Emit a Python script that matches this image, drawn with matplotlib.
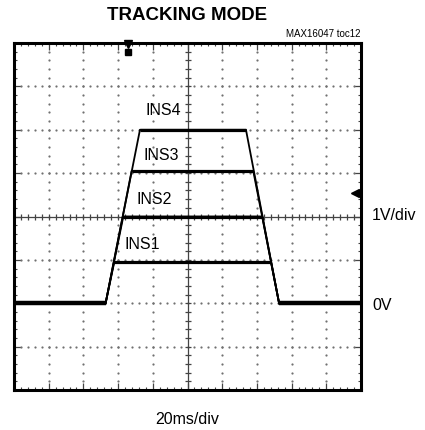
import numpy as np
import matplotlib
matplotlib.use("Agg")
import matplotlib.pyplot as plt
from matplotlib.ticker import MultipleLocator

# scope settings: 20ms/div, 1V/div, 0V two divisions above the bottom
t_div = 20.0
v_div = 1.0

# tracking ramp (ms) and channel levels (V)
canais = ["INS1", "INS2", "INS3", "INS4"]
niveis = [0.95, 2.0, 3.05, 4.0]
t_inicio_subida = 52.8
t_fim_subida = [57.8, 63.0, 67.8, 72.6]
t_inicio_descida = [148.1, 143.1, 137.9, 133.7]
t_fim_descida = 152.8

# label positions (ms, V)
rotulo_x = [74.0, 81.0, 85.0, 86.0]
rotulo_y = [1.35, 2.4, 3.4, 4.45]

fonte = "Liberation Sans"

fig = plt.figure(figsize=(4.25, 4.30), dpi=100)
ax = fig.add_axes([14 / 425, 40 / 430, 347 / 425, 347 / 430])
ax.set_xlim(0, 10 * t_div)
ax.set_ylim(-2, 6)

# --- graticule ---
cinza = "#707070"
for gx in np.arange(1, 10) * t_div:
    if gx == 5 * t_div:
        continue
    yy = np.arange(-2, 6.01, 0.2)
    ax.plot(np.full_like(yy, gx), yy, ls="none", marker="o", ms=1.6, color=cinza, mew=0)
for gy in np.arange(-1, 6):
    if gy == 2:
        continue
    xx = np.arange(0, 200.01, t_div / 5)
    ax.plot(xx, np.full_like(xx, gy), ls="none", marker="o", ms=1.6, color=cinza, mew=0)

# center cross with minor ticks
ax.axvline(100, color="#444444", lw=0.9)
ax.axhline(2, color="#444444", lw=0.9)
yy = np.arange(-2, 6.01, 0.2)
ax.plot(np.full_like(yy, 100), yy, ls="none", marker="_", ms=5, mew=0.9, color="#444444")
xx = np.arange(0, 200.01, 4)
ax.plot(xx, np.full_like(xx, 2), ls="none", marker="|", ms=5, mew=0.9, color="#444444")

# --- traces ---
for i in range(len(canais)):
    tx = [t_inicio_subida, t_fim_subida[i], t_inicio_descida[i], t_fim_descida]
    vy = [0, niveis[i], niveis[i], 0]
    ax.plot(tx[1:3], vy[1:3], color="black", lw=2.3, solid_capstyle="butt")
    ax.plot(tx, vy, color="black", lw=1.3)
    ax.text(rotulo_x[i], rotulo_y[i], canais[i], fontsize=11.5, family=fonte,
            ha="center", va="center")

# ground before and after
ax.plot([0, t_inicio_subida], [0, 0], color="black", lw=3.2, solid_capstyle="butt")
ax.plot([t_fim_descida, 200], [0, 0], color="black", lw=3.2, solid_capstyle="butt")

# trigger marker and level marker
ax.plot([65.5], [5.97], marker="v", ms=6, color="black", clip_on=False)
ax.plot([65.5], [5.8], marker="s", ms=5, color="black")
ax.plot([196.5], [2.55], marker="<", ms=6, color="black")

# border ticks
ax.xaxis.set_major_locator(MultipleLocator(t_div))
ax.xaxis.set_minor_locator(MultipleLocator(t_div / 5))
ax.yaxis.set_major_locator(MultipleLocator(v_div))
ax.yaxis.set_minor_locator(MultipleLocator(v_div / 5))
ax.tick_params(which="both", direction="in", top=True, right=True,
               labelbottom=False, labelleft=False, color="#444444")
ax.tick_params(which="major", length=5, width=0.9)
ax.tick_params(which="minor", length=2.5, width=0.8)
for s in ax.spines.values():
    s.set_linewidth(2.2)

# --- text ---
fig.text(187.5 / 425, 1 - 15 / 430, "TRACKING MODE", ha="center", va="center",
         fontsize=13.5, fontweight="bold", family=fonte)
fig.text(360 / 425, 1 - 34 / 430, "MAX16047 toc12", ha="right", va="center",
         fontsize=7, family=fonte)
fig.text(372 / 425, 1 - 215 / 430, "1V/div", ha="left", va="center",
         fontsize=11.5, family=fonte)
fig.text(372 / 425, 1 - 305 / 430, "0V", ha="left", va="center",
         fontsize=11.5, family=fonte)
fig.text(187.5 / 425, 1 - 419 / 430, "20ms/div", ha="center", va="center",
         fontsize=11.5, family=fonte)

fig.savefig("out.png", dpi=100)
